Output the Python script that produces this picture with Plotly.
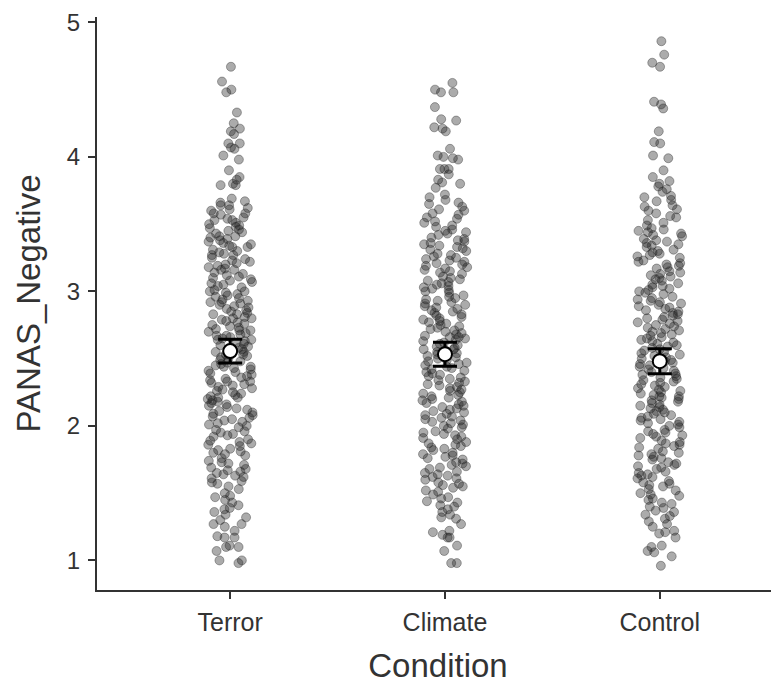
import plotly.graph_objects as go

categories = ["Terror", "Climate", "Control"]

terror = [
    4.67, 4.56, 4.50, 4.48, 4.33, 4.25, 4.21, 4.19, 4.17, 4.10, 4.10, 4.07, 4.06, 4.01,
    3.98, 3.90, 3.85, 3.83, 3.80, 3.79, 3.79, 3.69, 3.67, 3.66, 3.64, 3.64, 3.62, 3.61,
    3.60, 3.58, 3.58, 3.57, 3.55, 3.54, 3.53, 3.53, 3.51, 3.50,
    3.49, 3.47, 3.46, 3.45, 3.44, 3.41, 3.41, 3.40, 3.38, 3.37, 3.36, 3.35, 3.33, 3.33,
    3.31, 3.30, 3.28, 3.27, 3.27, 3.25, 3.24, 3.23, 3.21, 3.20, 3.19, 3.17, 3.16, 3.16,
    3.14, 3.13, 3.11, 3.10, 3.09, 3.08, 3.06, 3.05, 3.04, 3.03, 3.01, 3.00, 3.00,
    3.48, 3.43, 3.39, 3.34, 3.29, 3.22, 3.18, 3.12, 3.07,
    2.99, 2.98, 2.96, 2.95, 2.94, 2.93, 2.91, 2.90, 2.89, 2.88, 2.87, 2.86, 2.84, 2.83,
    2.83, 2.81, 2.80, 2.79, 2.78, 2.76, 2.75, 2.74, 2.73, 2.72, 2.71, 2.70, 2.69, 2.68,
    2.67, 2.66, 2.65, 2.64, 2.63, 2.62, 2.61, 2.60, 2.59, 2.58, 2.57, 2.56, 2.55, 2.54,
    2.53, 2.52, 2.51, 2.50, 2.97, 2.92, 2.85, 2.77, 2.71, 2.64, 2.58, 2.53, 2.92, 2.80,
    2.67, 2.55,
    2.49, 2.48, 2.47, 2.45, 2.44, 2.43, 2.42, 2.40, 2.39, 2.38, 2.37, 2.35, 2.34, 2.33,
    2.32, 2.31, 2.29, 2.28, 2.27, 2.26, 2.24, 2.23, 2.22, 2.21, 2.20, 2.19, 2.17, 2.16,
    2.15, 2.14, 2.12, 2.11, 2.10, 2.09, 2.08, 2.06, 2.05, 2.04, 2.03, 2.01, 2.00,
    2.46, 2.41, 2.36, 2.30, 2.25, 2.18, 2.13, 2.07, 2.02, 2.44, 2.33, 2.21,
    1.99, 1.97, 1.96, 1.94, 1.93, 1.92, 1.90, 1.89, 1.88, 1.86, 1.85, 1.83, 1.82, 1.81,
    1.79, 1.78, 1.76, 1.74, 1.73, 1.71, 1.69, 1.68, 1.67, 1.66, 1.64, 1.63, 1.62, 1.61,
    1.59, 1.57, 1.55, 1.53, 1.50, 1.95, 1.87, 1.80, 1.72, 1.65, 1.58,
    1.48, 1.47, 1.45, 1.43, 1.41, 1.39, 1.38, 1.36, 1.34, 1.32, 1.30, 1.27, 1.27, 1.25,
    1.22, 1.18, 1.17, 1.17, 1.11, 1.10, 1.10, 1.07, 1.00, 1.00, 0.98,
]

climate = [
    4.55, 4.50, 4.48, 4.48, 4.37, 4.28, 4.27, 4.22, 4.21, 4.19, 4.06, 4.01, 4.00,
    3.99, 3.98, 3.91, 3.91, 3.91, 3.87, 3.83, 3.81, 3.80, 3.77, 3.72, 3.70, 3.68, 3.66,
    3.65, 3.63, 3.61, 3.60, 3.58, 3.57, 3.55, 3.54, 3.52, 3.51,
    3.49, 3.48, 3.46, 3.44, 3.43, 3.42, 3.40, 3.39, 3.37, 3.36, 3.35, 3.34, 3.32, 3.31,
    3.30, 3.28, 3.27, 3.26, 3.24, 3.23, 3.22, 3.20, 3.19, 3.18, 3.17, 3.15, 3.14, 3.13,
    3.11, 3.10, 3.08, 3.07, 3.06, 3.04, 3.03, 3.02, 3.01, 3.00, 3.45, 3.38, 3.33, 3.25,
    3.21, 3.16, 3.09, 3.05,
    2.99, 2.97, 2.96, 2.95, 2.93, 2.92, 2.91, 2.89, 2.88, 2.87, 2.85, 2.84, 2.82, 2.81,
    2.80, 2.79, 2.77, 2.76, 2.75, 2.74, 2.72, 2.71, 2.70, 2.68, 2.67, 2.66, 2.65, 2.63,
    2.62, 2.61, 2.60, 2.58, 2.57, 2.56, 2.55, 2.54, 2.52, 2.51, 2.50, 2.94, 2.86, 2.78,
    2.73, 2.69, 2.64, 2.59, 2.53, 2.90, 2.83, 2.66, 2.57,
    2.49, 2.48, 2.46, 2.45, 2.44, 2.42, 2.41, 2.40, 2.39, 2.37, 2.36, 2.35, 2.34, 2.32,
    2.31, 2.30, 2.29, 2.27, 2.26, 2.25, 2.23, 2.22, 2.21, 2.20, 2.18, 2.17, 2.16, 2.14,
    2.13, 2.12, 2.10, 2.09, 2.08, 2.07, 2.05, 2.04, 2.03, 2.02, 2.00, 2.47, 2.43, 2.38,
    2.33, 2.28, 2.24, 2.19, 2.15, 2.11, 2.06, 2.01,
    1.99, 1.98, 1.96, 1.95, 1.94, 1.92, 1.91, 1.90, 1.88, 1.87, 1.86, 1.84, 1.83, 1.82,
    1.80, 1.79, 1.78, 1.76, 1.75, 1.73, 1.72, 1.71, 1.69, 1.68, 1.66, 1.65, 1.64, 1.62,
    1.61, 1.60, 1.58, 1.57, 1.55, 1.54, 1.52, 1.51, 1.93, 1.85, 1.77, 1.70, 1.63, 1.56,
    1.49, 1.47, 1.46, 1.44, 1.43, 1.41, 1.40, 1.38, 1.36, 1.34, 1.32, 1.31, 1.27, 1.22,
    1.21, 1.19, 1.17, 1.17, 1.11, 1.07, 0.98, 0.98,
]

control = [
    4.86, 4.76, 4.70, 4.67, 4.41, 4.39, 4.36, 4.19, 4.11, 4.10, 4.01,
    3.99, 3.90, 3.85, 3.82, 3.80, 3.78, 3.76, 3.74, 3.71, 3.70, 3.68, 3.67, 3.64, 3.63,
    3.61, 3.60, 3.58, 3.56, 3.55, 3.53, 3.51,
    3.49, 3.47, 3.46, 3.45, 3.43, 3.42, 3.41, 3.39, 3.38, 3.36, 3.35, 3.34, 3.33, 3.31,
    3.30, 3.29, 3.27, 3.26, 3.25, 3.23, 3.22, 3.21, 3.19, 3.18, 3.17, 3.15, 3.14, 3.13,
    3.12, 3.10, 3.09, 3.08, 3.06, 3.05, 3.04, 3.03, 3.01, 3.00, 3.44, 3.37, 3.28, 3.20,
    3.11, 3.02,
    2.99, 2.98, 2.96, 2.95, 2.94, 2.92, 2.91, 2.90, 2.89, 2.87, 2.86, 2.85, 2.83, 2.82,
    2.81, 2.80, 2.78, 2.77, 2.76, 2.74, 2.73, 2.72, 2.71, 2.69, 2.68, 2.67, 2.65, 2.64,
    2.63, 2.62, 2.60, 2.59, 2.58, 2.57, 2.55, 2.54, 2.53, 2.51, 2.50, 2.93, 2.84, 2.79,
    2.70, 2.66, 2.61, 2.56, 2.52, 2.88, 2.75,
    2.49, 2.47, 2.46, 2.45, 2.43, 2.42, 2.41, 2.40, 2.38, 2.37, 2.36, 2.34, 2.33, 2.32,
    2.31, 2.29, 2.28, 2.27, 2.25, 2.24, 2.23, 2.22, 2.20, 2.19, 2.18, 2.16, 2.15, 2.14,
    2.13, 2.11, 2.10, 2.09, 2.07, 2.06, 2.05, 2.04, 2.02, 2.01, 2.00, 2.48, 2.44, 2.39,
    2.35, 2.30, 2.26, 2.21, 2.17, 2.12, 2.08, 2.03, 2.22,
    1.99, 1.97, 1.96, 1.95, 1.93, 1.92, 1.91, 1.89, 1.88, 1.87, 1.85, 1.84, 1.83, 1.81,
    1.80, 1.79, 1.77, 1.76, 1.75, 1.73, 1.72, 1.70, 1.69, 1.68, 1.66, 1.65, 1.63, 1.62,
    1.61, 1.59, 1.58, 1.56, 1.55, 1.53, 1.52, 1.50, 1.94, 1.86, 1.78, 1.71, 1.64, 1.57,
    1.49, 1.48, 1.46, 1.45, 1.43, 1.42, 1.40, 1.39, 1.37, 1.36, 1.34, 1.33, 1.31, 1.29,
    1.27, 1.25, 1.22, 1.21, 1.20, 1.17, 1.11, 1.10, 1.07, 1.06, 1.03, 0.96,
]

means = [2.556, 2.533, 2.481]
errors = [0.089, 0.089, 0.093]

y_tick_vals = [1, 2, 3, 4, 5]
y_tick_text = ["1", "2", "3", "4", "5"]

font_family = "Liberation Sans, Arial, sans-serif"
text_color = "#333333"

all_x = ["Terror"] * len(terror) + ["Climate"] * len(climate) + ["Control"] * len(control)
all_y = terror + climate + control

fig = go.Figure()

fig.add_trace(go.Box(
    x=all_x,
    y=all_y,
    boxpoints="all",
    jitter=1,
    pointpos=0,
    width=0.21,
    line=dict(width=0, color="rgba(0,0,0,0)"),
    fillcolor="rgba(0,0,0,0)",
    marker=dict(
        size=9,
        color="rgba(35,35,35,0.38)",
        line=dict(width=1, color="rgba(30,30,30,0.36)"),
    ),
    hoverinfo="skip",
    showlegend=False,
))

fig.add_trace(go.Scatter(
    x=categories,
    y=means,
    mode="markers",
    marker=dict(size=14, color="white", line=dict(width=2, color="black")),
    error_y=dict(type="data", array=errors, visible=True, color="black",
                 thickness=3, width=12),
    hoverinfo="skip",
    showlegend=False,
))

fig.update_layout(
    width=779,
    height=688,
    margin=dict(l=89, r=8, t=9, b=106),
    plot_bgcolor="white",
    paper_bgcolor="white",
    font=dict(family=font_family, color=text_color),
    xaxis=dict(
        type="category",
        categoryorder="array",
        categoryarray=categories,
        range=[-0.62, 2.555],
        automargin=False,
        showgrid=False,
        zeroline=False,
        showline=True,
        linecolor="#333333",
        linewidth=2,
        ticks="outside",
        ticklen=7,
        tickwidth=2,
        tickcolor="#333333",
        ticklabelstandoff=2,
        ticklabeloverflow="allow",
        tickfont=dict(size=25, color=text_color, family=font_family),
        title=dict(text="Condition", font=dict(size=33, color=text_color, family=font_family),
                   standoff=19),
    ),
    yaxis=dict(
        range=[0.78, 5.04],
        tickvals=y_tick_vals,
        ticktext=y_tick_text,
        automargin=False,
        showgrid=False,
        zeroline=False,
        showline=True,
        linecolor="#333333",
        linewidth=2,
        ticks="outside",
        ticklen=7,
        tickwidth=2,
        tickcolor="#333333",
        ticklabelstandoff=3,
        ticklabeloverflow="allow",
        tickfont=dict(size=24, color=text_color, family=font_family),
        title=dict(text="PANAS_Negative", font=dict(size=33, color=text_color, family=font_family),
                   standoff=16),
    ),
)

fig.write_html("out.html")
